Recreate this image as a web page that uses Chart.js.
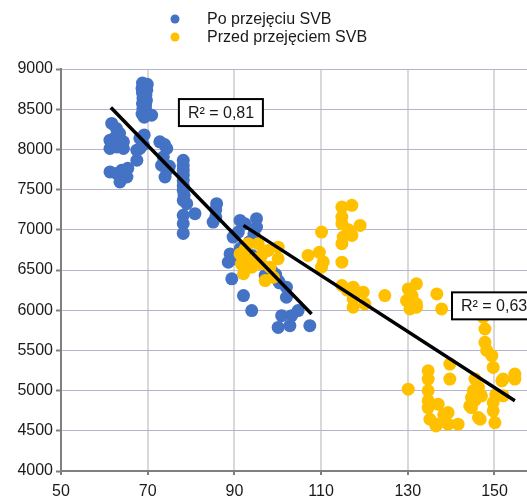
<!DOCTYPE html>
<html>
<head>
<meta charset="utf-8">
<script src="https://cdn.jsdelivr.net/npm/chart.js@4"></script>
<style>
  html, body { margin: 0; padding: 0; background: #ffffff; }
  #wrap { width: 527px; height: 497px; }
</style>
</head>
<body>
<div id="wrap"><canvas id="c" width="527" height="497"></canvas></div>
<script>
// Series labels
const seriesNames = ['Po przejęciu SVB', 'Przed przejęciem SVB'];

// After the takeover (blue)
const afterX = [
  61.7, 62.8, 63.5, 61.3, 62.5, 64.4, 61.3, 62.9, 64.4, 63.8,
  61.3, 62.8, 63.6, 64.0, 65.2, 65.4, 67.5,
  68.8, 69.9, 68.7, 69.8, 68.8, 69.6, 68.9, 69.7, 68.8, 69.5, 68.9, 69.7, 68.7, 69.2, 70.9,
  68.2, 69.2, 68.2, 67.5, 69.0,
  72.8, 73.9, 74.4, 73.6, 73.2, 75.0, 74.4, 74.0,
  78.2, 78.2, 78.2, 78.2, 78.2, 78.2, 78.2, 78.4, 78.2, 79.0, 78.2, 78.2, 78.2, 80.9,
  85.9, 85.7, 85.7, 85.1,
  91.3, 95.1, 95.1, 92.4, 90.9, 89.7, 91.4, 89.0, 88.6, 90.2, 89.4, 92.1, 94.0, 93.5, 94.5,
  97.1, 99.5, 100.1, 100.4, 102.0, 102.0, 100.9, 103.2, 100.1, 102.8, 104.7, 107.4, 98.5, 94.1
];
const afterY = [
  8323, 8260, 8200, 8115, 8150, 8094, 8011, 8030, 8011, 8060,
  7720, 7700, 7595, 7740, 7657, 7765, 7865,
  8825, 8810, 8760, 8740, 8700, 8680, 8640, 8610, 8570, 8540, 8500, 8470, 8440, 8400, 8426,
  8136, 8180, 8011, 7990, 8060,
  8094, 8060, 8011, 7906, 7803, 7790, 7740, 7657,
  7865, 7800, 7740, 7680, 7616, 7550, 7491, 7430, 7367, 7325, 7180, 7076, 6955, 7200,
  7325, 7250, 7160, 7096,
  7117, 7138, 7034, 7076, 6972, 6910, 6772, 6700, 6597, 6640, 6390, 6182, 5995, 6850, 6950,
  6432, 6445, 6369, 6340, 6286, 6161, 5932, 5932, 5786, 5808, 5995, 5808, 6500, 6680
];

// Before the takeover (yellow)
const beforeX = [
  93.2, 95.5, 91.3, 92.1, 94.8, 97.8, 100.1, 100.1, 98.2, 97.1, 99.0, 94.0, 96.2, 91.6, 92.5, 96.5, 93.0,
  110.1, 107.0, 109.6, 110.5, 110.1,
  114.8, 117.1, 114.8, 114.8, 119.0, 115.1, 117.1, 114.8, 116.3, 114.8, 114.8, 117.4, 118.2, 117.4, 117.4, 120.1, 119.7, 116.0,
  124.7, 130.1, 132.0, 129.7, 132.0, 130.5, 131.0, 136.7, 137.8, 132.0, 130.5,
  130.1, 134.7, 134.7, 134.7, 134.7, 134.7, 135.1, 137.0, 136.7, 139.3, 139.3, 141.6, 139.7, 139.7, 136.5, 138.3,
  145.5, 146.3, 144.7, 144.7, 146.3, 145.1, 144.3, 147.0, 146.7, 145.5,
  147.4, 147.8, 147.8, 148.2, 149.4, 149.7, 149.7, 149.7, 150.1, 150.3,
  151.7, 152.0, 154.7, 154.7, 152.0
];
const beforeY = [
  6827, 6827, 6700, 6453, 6640, 6743, 6784, 6640, 6535, 6369, 6410, 6535, 6577, 6577, 6760, 6700, 6620,
  6972, 6681, 6720, 6600, 6535,
  7283, 7304, 7158, 7076, 7055, 6910, 6930, 6827, 7000, 6597, 6307, 6286, 6224, 6141, 6037, 6078, 6224, 6250,
  6182, 6265, 6328, 6120, 6037, 6016, 6180, 6203, 6016, 6078, 6230,
  5018, 5247, 5143, 4998, 4873, 4789, 4644, 4831, 4582, 4727, 4582, 4582, 5330, 5143, 4560, 4700,
  5143, 5040, 4914, 4789, 4665, 4998, 4810, 4935, 4644, 4880,
  5912, 5766, 5600, 5500, 5434, 5288, 4852, 4748, 4602, 4950,
  5122, 5143, 5205, 5143, 4935
];

// Linear trend lines (start and end points) and their R² labels
const trendAfterX = [61.5, 107.8];
const trendAfterY = [8522, 5953];
const trendBeforeX = [92.1, 154.7];
const trendBeforeY = [7055, 4873];
const r2Labels = ['R² = 0,81', 'R² = 0,63'];

// Axis ticks
const xTicks = [50, 70, 90, 110, 130, 150];
const yTicks = [4000, 4500, 5000, 5500, 6000, 6500, 7000, 7500, 8000, 8500, 9000];

const FONT = '"Liberation Sans", Arial, sans-serif';
const BLUE = '#4472C4';
const YELLOW = '#FFC000';

const toPoints = (xs, ys) => xs.map((x, i) => ({ x: x, y: ys[i] }));

// Legend drawn as two stacked rows above the plot
const legendRows = {
  id: 'legendRows',
  afterDraw(chart) {
    const ctx = chart.ctx;
    const items = [
      { text: seriesNames[0], color: BLUE, y: 19 },
      { text: seriesNames[1], color: YELLOW, y: 37 }
    ];
    ctx.save();
    ctx.font = '16px ' + FONT;
    ctx.textBaseline = 'middle';
    ctx.textAlign = 'left';
    items.forEach(it => {
      ctx.fillStyle = it.color;
      ctx.beginPath();
      ctx.arc(175, it.y, 4.5, 0, Math.PI * 2);
      ctx.fill();
      ctx.fillStyle = '#1a1a1a';
      ctx.fillText(it.text, 207, it.y + 1);
    });
    ctx.restore();
  }
};

// Boxed R² labels anchored at data positions
const r2Boxes = {
  id: 'r2Boxes',
  afterDatasetsDraw(chart) {
    const ctx = chart.ctx;
    const xs = chart.scales.x, ys = chart.scales.y;
    const boxes = [
      { text: r2Labels[0], x: 77.2, y: 8626, w: 84, h: 27 },
      { text: r2Labels[1], x: 140.2, y: 6222, w: 90, h: 27 }
    ];
    ctx.save();
    ctx.font = '16px ' + FONT;
    ctx.textBaseline = 'middle';
    ctx.textAlign = 'left';
    boxes.forEach(b => {
      const left = xs.getPixelForValue(b.x);
      const top = ys.getPixelForValue(b.y);
      ctx.fillStyle = '#ffffff';
      ctx.fillRect(left, top, b.w, b.h);
      ctx.strokeStyle = '#000000';
      ctx.lineWidth = 2;
      ctx.strokeRect(left, top, b.w, b.h);
      ctx.fillStyle = '#1a1a1a';
      ctx.fillText(b.text, left + 9, top + b.h / 2 + 1);
    });
    ctx.restore();
  }
};

new Chart(document.getElementById('c'), {
  type: 'scatter',
  data: {
    datasets: [
      {
        label: seriesNames[0],
        data: toPoints(afterX, afterY),
        backgroundColor: BLUE,
        borderWidth: 0,
        pointRadius: 6.5,
        order: 2
      },
      {
        label: seriesNames[1],
        data: toPoints(beforeX, beforeY),
        backgroundColor: YELLOW,
        borderWidth: 0,
        pointRadius: 6.5,
        order: 1
      },
      {
        type: 'line',
        label: 'trend1',
        data: toPoints(trendAfterX, trendAfterY),
        borderColor: '#000000',
        borderWidth: 3.5,
        pointRadius: 0,
        fill: false,
        order: 0
      },
      {
        type: 'line',
        label: 'trend2',
        data: toPoints(trendBeforeX, trendBeforeY),
        borderColor: '#000000',
        borderWidth: 3.5,
        pointRadius: 0,
        fill: false,
        order: 0
      }
    ]
  },
  options: {
    responsive: false,
    animation: false,
    events: [],
    layout: { autoPadding: false, padding: { top: 69, left: 0, right: 0, bottom: 0 } },
    plugins: {
      legend: { display: false },
      tooltip: { enabled: false }
    },
    scales: {
      x: {
        type: 'linear',
        min: 50,
        max: 157.5,
        afterBuildTicks: s => { s.ticks = xTicks.map(v => ({ value: v })); },
        afterFit: s => { s.height = 26; },
        grid: {
          color: '#d9d9d9',
          lineWidth: 2,
          tickLength: 4,
          tickColor: '#7f7f7f',
          tickWidth: 2
        },
        border: { color: '#7f7f7f', width: 2 },
        ticks: {
          font: { family: FONT, size: 16 },
          color: '#1a1a1a',
          padding: 7,
          maxRotation: 0,
          callback: v => String(v)
        }
      },
      y: {
        type: 'linear',
        min: 4000,
        max: 9000,
        afterBuildTicks: s => { s.ticks = yTicks.map(v => ({ value: v })); },
        afterFit: s => { s.width = 61; },
        grid: {
          color: '#b4b4cc',
          lineWidth: 1,
          borderDash: [2, 2],
          tickLength: 5,
          tickColor: '#7f7f7f',
          tickWidth: 2,
          tickBorderDash: []
        },
        border: { color: '#7f7f7f', width: 2 },
        ticks: {
          font: { family: FONT, size: 16 },
          color: '#1a1a1a',
          padding: 3,
          callback: v => String(v)
        }
      }
    }
  },
  plugins: [legendRows, r2Boxes]
});
</script>
</body>
</html>
